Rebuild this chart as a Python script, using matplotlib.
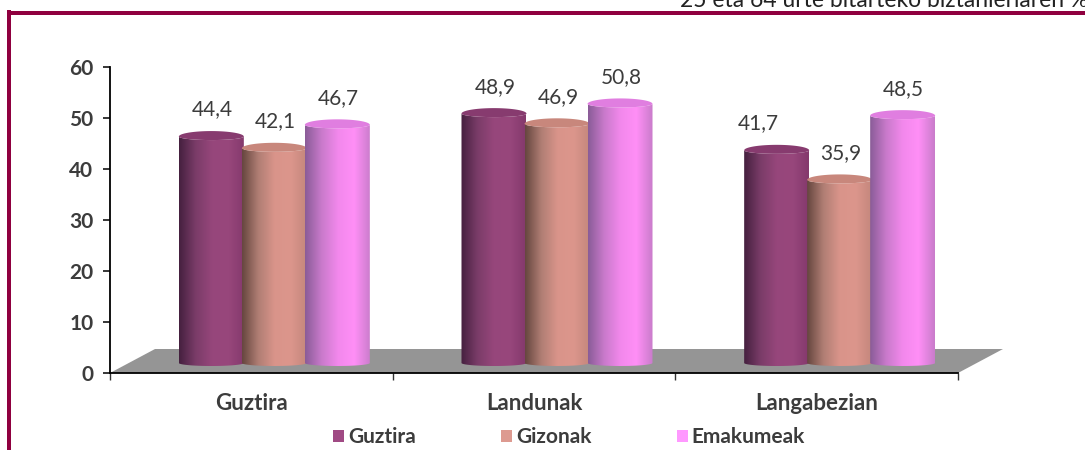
import matplotlib
matplotlib.use('Agg')
import matplotlib.pyplot as plt
import numpy as np
from matplotlib.colors import LinearSegmentedColormap
from matplotlib.patches import Patch, PathPatch, Polygon, Rectangle
from matplotlib.path import Path

plt.rcParams['font.family'] = ['Lato', 'DejaVu Sans']

categories = ['Guztira', 'Landunak', 'Langabezian']
series_names = ['Guztira', 'Gizonak', 'Emakumeak']
guztira = [44.4, 48.9, 41.7]
gizonak = [42.1, 46.9, 35.9]
emakumeak = [46.7, 50.8, 48.5]
y_ticks = [0, 10, 20, 30, 40, 50, 60]
subtitle = '25 eta 64 urte bitarteko biztanleriaren %'

W, H = 1085, 450
MAROON = '#8f003f'
TEXT = '#3c3c3c'

# colour stops left to right for each cylinder
body_cols = [
    ['#45203f', '#7a3c68', '#96467b', '#98477c', '#84396c'],
    ['#66463f', '#b07e74', '#d9948a', '#dc968c', '#c4877c'],
    ['#8a5c98', '#c97acb', '#f288ec', '#ff8ff6', '#c97ccb'],
]
top_cols = ['#873b6f', '#c8877c', '#e07ee0']
legend_cols = ['#a04a84', '#dd9a90', '#ff99ff']

fig = plt.figure(figsize=(W / 100, H / 100), dpi=100)
ax = fig.add_axes([110 / W, (H - 373) / H, 848 / W, 306 / H])
ax.set_xlim(0, 3)
ax.set_ylim(0, 60)

px_x = 3 / 848
px_y = 60 / 306
bar_w = 65 * px_x
step = 63 * px_x
depth_x = 23 * px_x
base = 10 * px_y
cap_up = 5.5 * px_y
cap_down = 3.5 * px_y
foot = 3 * px_y


def half_arc(xc, yc, h, start, end):
    t = np.linspace(start, end, 40)
    return np.column_stack([xc + bar_w / 2 * np.cos(t), yc + h * np.sin(t)])


def cylinder(xc, value, cols, top, z):
    ytop = base + value
    xl = xc - bar_w / 2
    xr = xc + bar_w / 2
    # body: left side, bottom curve, right side, front of the cap
    pts = np.vstack([half_arc(xc, base, foot, np.pi, 2 * np.pi),
                     half_arc(xc, ytop, cap_down, 0, -np.pi)])
    clip = PathPatch(Path(np.vstack([pts, pts[:1]])), facecolor='none', edgecolor='none',
                     transform=ax.transData)
    ax.add_patch(clip)
    cmap = LinearSegmentedColormap.from_list('c', cols)
    im = ax.imshow(np.linspace(0, 1, 128).reshape(1, -1), cmap=cmap, aspect='auto',
                   extent=[xl, xr, base - foot, ytop], zorder=z, interpolation='bilinear')
    im.set_clip_path(clip)
    # cap
    cap = np.vstack([half_arc(xc, ytop, cap_up, 0, np.pi),
                     half_arc(xc, ytop, cap_down, -np.pi, 0)])
    ax.add_patch(Polygon(cap, closed=True, facecolor=top, edgecolor='none', zorder=z + 0.1))


# floor
floor_dx = 45 * px_x
floor_h = 24 * px_y
ax.add_patch(Polygon([(0, 0), (floor_dx, floor_h), (3 + floor_dx, floor_h), (3, 0)],
                     closed=True, facecolor='#959595', edgecolor='none', zorder=1, clip_on=False))

all_series = [guztira, gizonak, emakumeak]
# the 41,7 label sits off to the left in the original
label_nudge = {(0, 2): -18}
for i in range(len(categories)):
    for s, vals in enumerate(all_series):
        xc = i + 0.5 + depth_x + (s - 1) * step
        cylinder(xc, vals[i], body_cols[s], top_cols[s], 3 + s)
        dx = label_nudge.get((s, i), 1) * px_x
        ax.text(xc + dx, base + vals[i] + 27 * px_y, ('%.1f' % vals[i]).replace('.', ','),
                ha='center', va='center', fontsize=15, color=TEXT, zorder=10)

ax.set_xlim(0, 3)
ax.set_ylim(0, 60)

for sp in ['top', 'right']:
    ax.spines[sp].set_visible(False)
for sp in ['left', 'bottom']:
    ax.spines[sp].set_linewidth(1.3)
    ax.spines[sp].set_color('black')

ax.set_yticks(y_ticks)
ax.set_yticklabels([str(v) for v in y_ticks], fontsize=15, fontweight='bold', color=TEXT)
ax.tick_params(axis='y', length=5, width=1.1, pad=7, color='black')
ax.set_xticks([0, 1, 2, 3])
ax.set_xticklabels([])
ax.tick_params(axis='x', length=5, width=1, color='#333333')
for i, c in enumerate(categories):
    ax.text(i + 0.5, -30 * px_y, c, ha='center', va='center', fontsize=16,
            fontweight='bold', color=TEXT, clip_on=False)

handles = [Patch(facecolor=c, edgecolor='none', label=n) for c, n in zip(legend_cols, series_names)]
fig.legend(handles=handles, loc='center', bbox_to_anchor=(569 / W, (H - 437) / H), ncol=3,
           frameon=False, handlelength=0.52, handleheight=0.52,
           handletextpad=0.2, columnspacing=4.1, borderpad=0, labelcolor=TEXT,
           prop={'weight': 'bold', 'size': 15})

# maroon frame and the cut off subtitle above it
fig.add_artist(Rectangle((7 / W, 0), 4 / W, (H - 10) / H, transform=fig.transFigure,
                         facecolor=MAROON, edgecolor='none'))
fig.add_artist(Rectangle((7 / W, (H - 15) / H), (W - 7) / W, 4 / H, transform=fig.transFigure,
                         facecolor=MAROON, edgecolor='none'))
fig.text(1088 / W, (H - 7) / H, subtitle, ha='right', va='baseline', fontsize=16.5, color='#222222')

fig.savefig('out.png', dpi=100)
